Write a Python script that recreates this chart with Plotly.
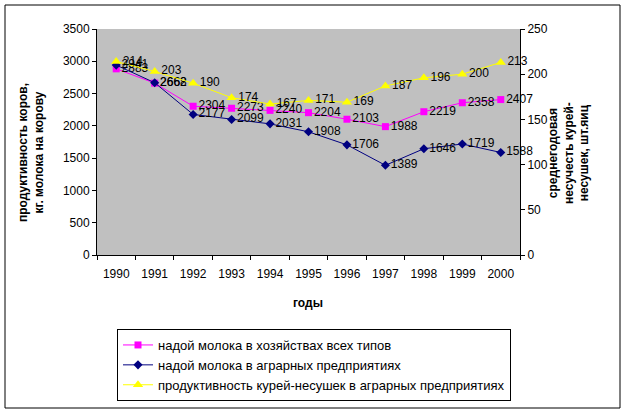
import plotly.graph_objects as go

years = ["1990", "1991", "1992", "1993", "1994", "1995", "1996", "1997", "1998", "1999", "2000"]
milk_all = [2883, 2662, 2304, 2273, 2240, 2204, 2103, 1988, 2219, 2358, 2407]
milk_agr = [2941, 2668, 2177, 2099, 2031, 1908, 1706, 1389, 1646, 1719, 1588]
hens_agr = [214, 203, 190, 174, 167, 171, 169, 187, 196, 200, 213]

names = ["надой молока в хозяйствах всех типов",
         "надой молока в аграрных предприятиях",
         "продуктивность курей-несушек в аграрных предприятиях"]

FONT = "Liberation Sans"
fig = go.Figure()
fig.add_trace(go.Scatter(x=years, y=milk_all, name=names[0], mode="lines+markers+text",
                         line=dict(color="#FF00FF", width=1),
                         marker=dict(symbol="square", size=7, color="#FF00FF"),
                         text=[str(v) for v in milk_all], textposition="middle right",
                         textfont=dict(family=FONT, size=12, color="black"),
                         cliponaxis=False, legendgroup="a", yaxis="y"))
fig.add_trace(go.Scatter(x=years, y=milk_agr, name=names[1], mode="lines+markers+text",
                         line=dict(color="#000080", width=1),
                         marker=dict(symbol="diamond", size=7, color="#000080"),
                         text=[str(v) for v in milk_agr], textposition="middle right",
                         textfont=dict(family=FONT, size=12, color="black"),
                         cliponaxis=False, legendgroup="b", yaxis="y"))
fig.add_trace(go.Scatter(x=years, y=hens_agr, name=names[2], mode="lines+markers+text",
                         line=dict(color="#FFFF00", width=1),
                         marker=dict(symbol="triangle-up", size=9, color="#FFFF00"),
                         text=[str(v) for v in hens_agr], textposition="middle right",
                         textfont=dict(family=FONT, size=12, color="black"),
                         cliponaxis=False, legendgroup="c", yaxis="y2"))

L, R, T, B = 97, 106, 29, 158
W, H = 626, 413
pw, ph = W - L - R, H - T - B

def px(x):
    return (x - L) / pw

def py(y):
    return (H - B - y) / ph

n = len(years)
bounds = [i - 0.5 for i in range(n + 1)]

inner = dict(showgrid=False, zeroline=False, showline=False, showticklabels=False,
             ticks="inside", ticklen=3, tickcolor="black", automargin=False)

fig.update_layout(
    width=W, height=H,
    margin=dict(l=L, r=R, t=T, b=B, autoexpand=False),
    paper_bgcolor="white",
    plot_bgcolor="#C0C0C0",
    font=dict(family=FONT, size=12, color="black"),
    showlegend=True,
    legend=dict(xref="container", yref="container", x=117 / W, y=1 - 329 / H,
                xanchor="left", yanchor="top", itemwidth=30,
                bordercolor="black", borderwidth=1, bgcolor="white",
                font=dict(family=FONT, size=13), tracegroupgap=9,
                traceorder="normal"),
    xaxis=dict(type="category", range=[-0.5, n - 0.5], showgrid=False, zeroline=False,
               showline=True, linecolor="black", linewidth=1, automargin=False,
               ticks="outside", ticklen=4, tickcolor="black", tickson="boundaries",
               ticklabelstandoff=8, tickfont=dict(size=12)),
    xaxis2=dict(overlaying="x", anchor="y", range=[-0.5, n - 0.5], tickvals=bounds, **inner),
    yaxis=dict(range=[0, 3500], dtick=500, showgrid=False, zeroline=False,
               showline=True, linecolor="black", linewidth=1, automargin=False,
               ticks="outside", ticklen=4, tickcolor="black", tickfont=dict(size=12)),
    yaxis2=dict(range=[0, 250], dtick=50, overlaying="y", side="right",
                showgrid=False, zeroline=False, showline=True, linecolor="black",
                linewidth=1, ticks="outside", ticklen=4, tickcolor="black",
                automargin=False, tickfont=dict(size=12)),
    yaxis3=dict(overlaying="y", anchor="x", side="left", range=[0, 3500], dtick=500, **inner),
    yaxis4=dict(overlaying="y", anchor="x", side="right", range=[0, 250], dtick=50, **inner),
    shapes=[dict(type="rect", xref="paper", yref="paper",
                 x0=px(5), x1=px(620), y0=py(408), y1=py(5),
                 line=dict(color="black", width=1), fillcolor="rgba(0,0,0,0)",
                 layer="below")],
    annotations=[
        dict(text="<b>продуктивность коров,<br>кг. молока на корову</b>", xref="paper", yref="paper",
             x=px(31), y=py(153), xanchor="center", yanchor="middle", textangle=-90,
             showarrow=False, font=dict(family=FONT, size=12)),
        dict(text="<b>среднегодовая<br>несучесть курей-<br>несушек, шт.яиц</b>", xref="paper", yref="paper",
             x=px(568), y=py(153), xanchor="center", yanchor="middle", textangle=-90,
             showarrow=False, font=dict(family=FONT, size=12)),
        dict(text="<b>годы</b>", xref="paper", yref="paper",
             x=px(308), y=py(303), xanchor="center", yanchor="middle",
             showarrow=False, font=dict(family=FONT, size=12)),
    ],
)

fig.write_html("out.html", config={"displayModeBar": False},
               post_script="document.body.style.margin='0px';")
